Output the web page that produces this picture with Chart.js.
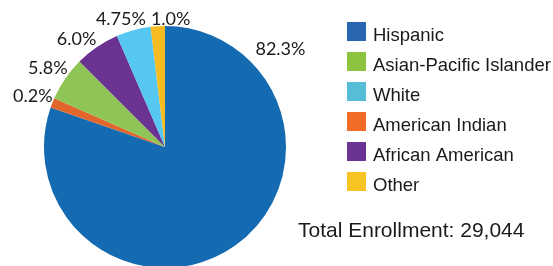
<!DOCTYPE html>
<html lang="en">
<head>
  <meta charset="UTF-8">
  <title>Total Enrollment by Ethnicity</title>
  <script src="https://cdn.jsdelivr.net/npm/chart.js"></script>
  <style>
    html, body { margin: 0; padding: 0; background: #fff; overflow: hidden; }
    #wrap { width: 553px; height: 270px; }
  </style>
</head>
<body>
  <div id="wrap"><canvas id="pieChart" width="553" height="270"></canvas></div>

  <script>
    // slices in the order they run clockwise from 12 o'clock
    const categories = ['Hispanic', 'American Indian', 'Asian-Pacific Islander', 'African American', 'White', 'Other'];
    // slice sizes as drawn in the picture
    const sliceValues = [80.3, 1.3, 5.9, 6.0, 4.6, 1.9];
    // percentages printed next to the slices
    const pctLabels = ['82.3%', '0.2%', '5.8%', '6.0%', '4.75%', '1.0%'];
    // legend order
    const legendOrder = ['Hispanic', 'Asian-Pacific Islander', 'White', 'American Indian', 'African American', 'Other'];
    const totalText = 'Total Enrollment: 29,044';

    const sliceColors = ['#156bb1', '#e0662b', '#8fc556', '#6a3291', '#55c7f0', '#f5bb21'];
    const legendColors = ['#2a66af', '#f26b27', '#8cc43f', '#6b3394', '#57bdd7', '#f6c524'];

    // where each % label sits: t = fraction along the slice, d = gap outside the rim
    const labelPlace = [
      { t: 0.171, d: 31 },
      { t: 0.5, d: 21 },
      { t: 0.5, d: 21 },
      { t: 0.27, d: 19 },
      { t: 0.27, d: 15 },
      { t: 1.37, d: 8 }
    ];

    const pieLabels = {
      id: 'pieLabels',
      afterDatasetsDraw(chart) {
        const ctx = chart.ctx;
        const arcs = chart.getDatasetMeta(0).data;
        ctx.save();
        ctx.font = '18px Lato, "Open Sans", sans-serif';
        ctx.fillStyle = '#1a1a1a';
        ctx.textAlign = 'center';
        ctx.textBaseline = 'middle';
        arcs.forEach((arc, i) => {
          const p = arc.getProps(['x', 'y', 'startAngle', 'endAngle', 'outerRadius'], true);
          const place = labelPlace[i];
          const a = p.startAngle + (p.endAngle - p.startAngle) * place.t;
          const r = p.outerRadius + place.d;
          ctx.fillText(pctLabels[i], p.x + Math.cos(a) * r, p.y + Math.sin(a) * r + 1);
        });
        ctx.restore();
      }
    };

    const sideLegend = {
      id: 'sideLegend',
      afterDraw(chart) {
        const ctx = chart.ctx;
        ctx.save();
        ctx.font = '18.5px "Liberation Sans", Arial, sans-serif';
        ctx.textBaseline = 'alphabetic';
        ctx.textAlign = 'left';
        legendOrder.forEach((name, row) => {
          const idx = categories.indexOf(name);
          const top = 22 + row * 30;
          ctx.fillStyle = legendColors[idx];
          ctx.fillRect(347, top, 19, 19);
          ctx.fillStyle = '#1a1a1a';
          ctx.fillText(name, 373, top + 19);
        });
        ctx.font = '21px "Liberation Sans", Arial, sans-serif';
        ctx.fillText(totalText, 298, 237);
        ctx.restore();
      }
    };

    new Chart(document.getElementById('pieChart'), {
      type: 'pie',
      data: {
        labels: categories,
        datasets: [{
          data: sliceValues,
          backgroundColor: sliceColors,
          borderWidth: 0
        }]
      },
      options: {
        responsive: false,
        animation: false,
        layout: { padding: { left: 44, top: 26, right: 267, bottom: 2 } },
        plugins: {
          legend: { display: false },
          tooltip: { enabled: false }
        }
      },
      plugins: [pieLabels, sideLegend]
    });
  </script>
</body>
</html>
